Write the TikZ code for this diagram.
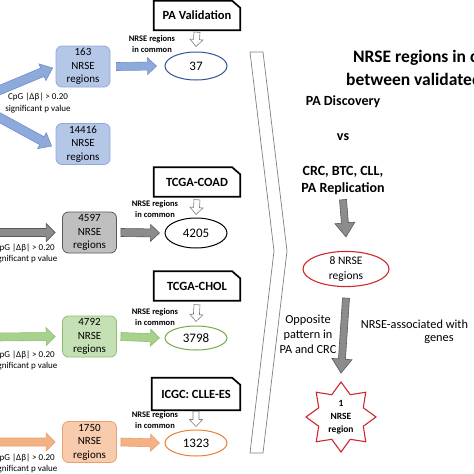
\documentclass[tikz,border=0pt]{standalone}
\usepackage{fontspec}
\setmainfont{Carlito}
\usetikzlibrary{shapes.geometric,calc}
\definecolor{bfill}{HTML}{B4C7E7}
\definecolor{bline}{HTML}{8FAADC}
\definecolor{barr}{HTML}{8EA9DB}
\definecolor{barrl}{HTML}{6F8FC9}
\definecolor{bell}{HTML}{2F5597}
\definecolor{gfill}{HTML}{BFBFBF}
\definecolor{gline}{HTML}{595959}
\definecolor{garr}{HTML}{8C8C8C}
\definecolor{nfill}{HTML}{C5E0B4}
\definecolor{nline}{HTML}{8DBF6E}
\definecolor{narr}{HTML}{A9D18E}
\definecolor{nell}{HTML}{70AD47}
\definecolor{ofill}{HTML}{F8CBAD}
\definecolor{oline}{HTML}{E9A06E}
\definecolor{oarr}{HTML}{F4B183}
\definecolor{oell}{HTML}{ED7D31}
\definecolor{redl}{HTML}{D0282E}
\definecolor{chev}{HTML}{7F7F7F}
\newcommand\fatarr[6]{%
  \coordinate (fah) at ($#3!#6!#2$);
  \filldraw[#1] ($#2!#4!90:#3$) -- ($(fah)!#4!90:#3$) -- ($(fah)!#5!90:#3$) -- #3 -- ($(fah)!#5!-90:#3$) -- ($(fah)!#4!-90:#3$) -- ($#2!#4!-90:#3$) -- cycle;}
\newcommand\snipbox[1]{%
  \draw[line width=1.7pt,line join=miter] (#1.north west) -- ([xshift=-8pt]#1.north east) -- ([yshift=-7pt]#1.north east) -- (#1.south east) -- (#1.south west) -- cycle;}
\begin{document}
\begin{tikzpicture}[x=1pt,y=-1pt,
  nbox/.style={draw, rounded corners=6pt, minimum width=54pt, minimum height=41pt, align=center, font=\fontsize{11}{13.5}\selectfont, inner sep=1pt, line width=0.8pt},
  ell/.style={ellipse, draw, minimum width=62pt, minimum height=28pt, font=\fontsize{13}{15}\selectfont, line width=1pt, inner sep=0pt, fill=white},
  common/.style={font=\bfseries\fontsize{8.5}{11}\selectfont, align=center},
  cpg/.style={font=\fontsize{9}{11.5}\selectfont, align=center},
  tagbox/.style={font=\bfseries\fontsize{12.5}{15}\selectfont, minimum width=86pt, minimum height=29pt, inner sep=0pt},
  hollow/.style={draw=chev, fill=white, line width=0.6pt},
  bluearr/.style={fill=barr, draw=barrl, line width=0.6pt},
  grayarr/.style={fill=garr, draw=gline, line width=0.6pt},
  greenarr/.style={fill=narr, draw=nline, line width=0.6pt},
  orangearr/.style={fill=oarr, draw=oline, line width=0.6pt},
  bigtxt/.style={font=\bfseries\fontsize{14}{17}\selectfont, align=center},
  titletxt/.style={font=\bfseries\fontsize{17.5}{20}\selectfont},
  midtxt/.style={font=\fontsize{12.3}{15}\selectfont, align=center}
]
\useasboundingbox (0,0) rectangle (474,474);
\clip (0,0) rectangle (474,474);

% ---------- PA Validation (blue) ----------
\node[nbox, fill=bfill, draw=bline] (b163) at (83,66.5) {163\\NRSE\\regions};
\node[nbox, fill=bfill, draw=bline] (b14416) at (83,144) {14416\\NRSE\\regions};
\node[ell, draw=bell] (e37) at (196,66) {37};
\node[tagbox] (tPA) at (197,15.5) {PA Validation};
\snipbox{tPA}
\node[common] (cPA) at (152,44) {NRSE regions\\in common};
\node[cpg] (gPA) at (38,103) {CpG |Δβ| > 0.20\\significant p value};
\coordinate (src) at (-29,102);
\coordinate (t1) at ([xshift=-3pt,yshift=-1.5pt]b163.west);
\coordinate (t2) at ([xshift=-4pt,yshift=-2pt]b14416.west);
\fatarr{bluearr}{(src)}{(t1)}{4.5pt}{9pt}{11pt}
\fatarr{bluearr}{(src)}{(t2)}{4.5pt}{9pt}{11pt}
\fatarr{bluearr}{([xshift=6pt]b163.east)}{([xshift=-8pt]e37.west)}{4pt}{8.5pt}{9pt}
\fatarr{hollow}{([yshift=-2pt]tPA.south)}{([yshift=5pt]e37.north)}{3pt}{6.5pt}{7pt}

% ---------- TCGA-COAD (gray) ----------
\node[nbox, fill=gfill, draw=gline] (b4597) at (89.5,232.5) {4597\\NRSE\\regions};
\node[ell, draw=black, minimum height=30pt] (e4205) at (196,233) {4205};
\node[tagbox] (tCO) at (197,182) {TCGA-COAD};
\snipbox{tCO}
\node[common] (cCO) at (155,209.5) {NRSE regions\\in common};
\node[cpg, anchor=east] (gCO) at (61,253.5) {CpG |Δβ| > 0.20\\significant p value};
\coordinate (l2) at (-5,232.5);
\fatarr{grayarr}{(l2)}{([xshift=-7pt]b4597.west)}{4pt}{9pt}{9pt}
\fatarr{grayarr}{([xshift=4pt]b4597.east)}{([xshift=-5pt]e4205.west)}{4pt}{8.5pt}{9pt}
\fatarr{hollow}{([yshift=-3pt]tCO.south)}{([yshift=3pt]e4205.north)}{3pt}{6.5pt}{7pt}

% ---------- TCGA-CHOL (green) ----------
\node[nbox, fill=nfill, draw=nline] (b4792) at (89.5,336.5) {4792\\NRSE\\regions};
\node[ell, draw=nell, minimum height=24pt] (e3798) at (196,338) {3798};
\node[tagbox] (tCH) at (197,286) {TCGA-CHOL};
\snipbox{tCH}
\node[common] (cCH) at (155,317.5) {NRSE regions\\in common};
\node[cpg, anchor=east] (gCH) at (61,360.5) {CpG |Δβ| > 0.20\\significant p value};
\coordinate (l3) at (-5,337);
\fatarr{greenarr}{(l3)}{([xshift=-7pt]b4792.west)}{4pt}{9pt}{9pt}
\fatarr{greenarr}{([xshift=4pt]b4792.east)}{([xshift=-5pt]e3798.west)}{4pt}{8.5pt}{9pt}
\fatarr{hollow}{([yshift=-4pt]tCH.south)}{([yshift=4pt]e3798.north)}{3pt}{6.5pt}{7pt}

% ---------- ICGC: CLLE-ES (orange) ----------
\node[nbox, fill=ofill, draw=oline] (b1750) at (89.5,442) {1750\\NRSE\\regions};
\node[ell, draw=oell, minimum height=26pt] (e1323) at (196,443) {1323};
\node[tagbox, minimum width=88pt, minimum height=32pt] (tIC) at (196,394) {ICGC: CLLE-ES};
\snipbox{tIC}
\node[common] (cIC) at (155,420.5) {NRSE regions\\in common};
\node[cpg, anchor=east] (gIC) at (61,463.5) {CpG |Δβ| > 0.20\\significant p value};
\coordinate (l4) at (-5,442);
\fatarr{orangearr}{(l4)}{([xshift=-7pt]b1750.west)}{4pt}{9pt}{9pt}
\fatarr{orangearr}{([xshift=4pt]b1750.east)}{([xshift=-5pt]e1323.west)}{4pt}{8.5pt}{9pt}
\fatarr{hollow}{([yshift=-1pt]tIC.south)}{([yshift=3pt]e1323.north)}{3pt}{6.5pt}{7pt}

% ---------- chevron ----------
\draw[draw=chev, fill=white, line width=0.7pt] (250,52) -- (263,52) -- (287,251) -- (263,453) -- (250,453) -- (274,251) -- cycle;

% ---------- right column ----------
\node[titletxt, anchor=west, inner sep=0pt] (tt1) at (353,58) {NRSE regions in co};
\node[titletxt, anchor=west, inner sep=0pt] (tt2) at (346,79) {between validated};
\node[bigtxt] (pad) at (343,102) {PA Discovery};
\node[bigtxt] (vs) at (343,137) {vs};
\node[bigtxt] (crc) at (343,181) {CRC, BTC, CLL,\\PA Replication};
\node[ell, draw=redl, minimum width=86pt, minimum height=34pt, font=\fontsize{11.5}{15}\selectfont, align=center, line width=1.1pt] (e8) at (346,269) {8 NRSE\\regions};
\node[star, star points=8, star point ratio=1.45, minimum size=70pt, draw=redl, line width=1.1pt, fill=white, align=center, inner sep=0pt, font=\bfseries\fontsize{9.5}{13}\selectfont] (st) at (341,417) {1\\NRSE\\region};
\fatarr{grayarr}{([yshift=-1pt]crc.south)}{([yshift=14pt]e8.north)}{3.5pt}{10pt}{14pt}
\fatarr{grayarr}{([yshift=-11pt]e8.south)}{([yshift=8pt]st.north)}{3.5pt}{10pt}{14pt}
\node[midtxt] (opp) at (308,334) {Opposite\\pattern in\\PA and CRC};
\node[midtxt] (assoc) at (414.5,324) {NRSE-associated with};
\node[midtxt] (genes) at (439,340) {genes};
\end{tikzpicture}
\end{document}
